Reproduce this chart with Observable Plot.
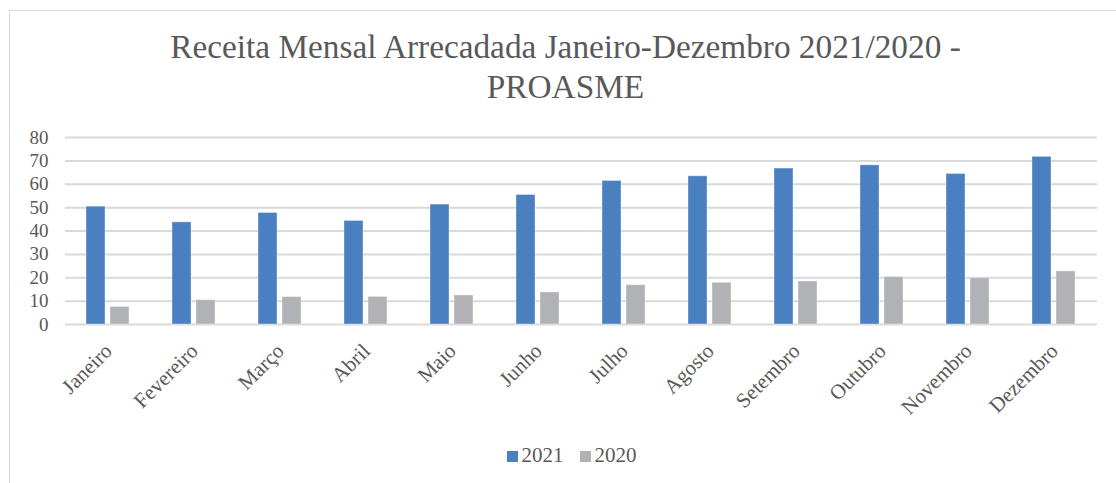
<!DOCTYPE html>
<html>
<head>
<meta charset="utf-8">
<script src="https://cdn.jsdelivr.net/npm/d3@7"></script>
<script src="https://cdn.jsdelivr.net/npm/@observablehq/plot@0.6"></script>
<style>
  html, body { margin: 0; padding: 0; background: #fff; width: 1116px; height: 483px; overflow: hidden; }
  #frame { position: absolute; left: 9px; top: 10px; width: 1130px; height: 500px; border: 1.5px solid #d9d9d9; box-sizing: border-box; }
  #title { position: absolute; left: 0; top: 27px; width: 1131px; text-align: center; font-family: 'Liberation Serif', 'Tinos', 'Times New Roman', 'DejaVu Serif', serif; font-size: 33.3px; line-height: 40px; color: #595959; }
  #chart { position: absolute; left: 0; top: 110px; }
  #legend { position: absolute; top: 442px; left: 0; width: 1143px; display: flex; justify-content: center; gap: 16px; font-family: 'Liberation Serif', 'Tinos', 'Times New Roman', 'DejaVu Serif', serif; font-size: 21px; color: #595959; line-height: 26px; }
  .item { display: flex; align-items: center; gap: 4px; }
  .sw { width: 11px; height: 11px; display: inline-block; margin-top: 3px; }
  #chart svg text { font-family: 'Liberation Serif', 'Tinos', 'Times New Roman', 'DejaVu Serif', serif; }
</style>
</head>
<body>
<div id="frame"></div>
<div id="title">Receita Mensal Arrecadada Janeiro-Dezembro 2021/2020 -<br>PROASME</div>
<div id="chart"></div>
<div id="legend"></div>
<script>
const months = ["Janeiro", "Fevereiro", "Março", "Abril", "Maio", "Junho", "Julho", "Agosto", "Setembro", "Outubro", "Novembro", "Dezembro"];
const series = ["2021", "2020"];
const values2021 = [50.4, 43.7, 47.7, 44.3, 51.3, 55.4, 61.4, 63.4, 66.7, 68.1, 64.4, 71.7];
const values2020 = [7.5, 10.4, 11.7, 11.8, 12.4, 13.7, 16.8, 17.8, 18.4, 20.3, 19.8, 22.7];
const colors = ["#4a80c0", "#b1b2b5"];
const yTicks = [0, 10, 20, 30, 40, 50, 60, 70, 80];

const data = [];
months.forEach((m, i) => {
  data.push({month: m, series: series[0], value: values2021[i]});
  data.push({month: m, series: series[1], value: values2020[i]});
});

const plot = Plot.plot({
  width: 1116,
  height: 314,
  marginLeft: 63,
  marginRight: 17,
  marginTop: 27,
  marginBottom: 100,
  style: {fontSize: "19px", color: "#595959", background: "transparent"},
  fx: {domain: months, padding: 0, label: null},
  x: {domain: series, paddingInner: 0.2, paddingOuter: 0.86, axis: null},
  y: {domain: [0, 80], label: null},
  color: {domain: series, range: colors},
  marks: [
    Plot.gridY(yTicks, {stroke: "#d9d9d9", strokeWidth: 2, strokeOpacity: 1}),
    Plot.axisY(yTicks, {tickSize: 0, tickPadding: 17, label: null, fontSize: 19}),
    Plot.axisFx({anchor: "bottom", tickSize: 0, tickRotate: -45, tickPadding: 23, label: null, fontSize: 21, dx: 0}),
    Plot.barY(data, {fx: "month", x: "series", y: "value", fill: "series", stroke: "#ffffff", strokeOpacity: 0.35, strokeWidth: 1})
  ]
});
document.getElementById("chart").appendChild(plot);

const legend = d3.select("#legend");
series.forEach((s, i) => {
  const it = legend.append("div").attr("class", "item");
  it.append("span").attr("class", "sw").style("background", colors[i]);
  it.append("span").text(s);
});
</script>
</body>
</html>
